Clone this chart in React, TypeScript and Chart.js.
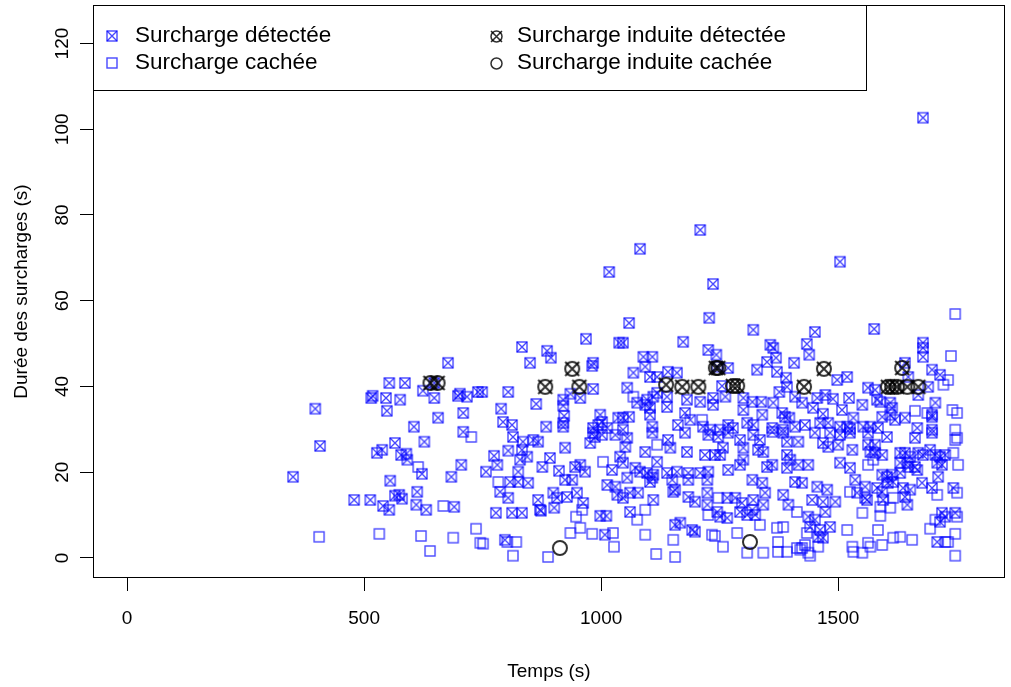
import React, { useEffect, useRef } from 'react';
import { Chart, registerables } from 'chart.js';

Chart.register(...registerables);

const X_TICKS = [0, 500, 1000, 1500];
const Y_TICKS = [0, 20, 40, 60, 80, 100, 120];
const X_MIN = -72;
const X_MAX = 1852;
const Y_MIN = -4.7;
const Y_MAX = 129;
const X_TITLE = 'Temps (s)';
const Y_TITLE = 'Durée des surcharges (s)';
const LEGEND_LABELS = [
  'Surcharge détectée',
  'Surcharge cachée',
  'Surcharge induite détectée',
  'Surcharge induite cachée',
];

type Pt = [number, number];

const detected: Pt[] = [
  [350, 18.9], [397, 34.8], [407, 26.1], [479, 13.5], [513, 13.5], [677, 45.5], [553, 40.8], [586, 40.8], [648, 40.8], [624, 39.0],
  [515, 37.3], [518, 37.8], [546, 37.3], [576, 36.9], [648, 37.3], [702, 38.3], [698, 37.8], [717, 37.6], [740, 38.7], [548, 34.3],
  [656, 32.7], [709, 33.8], [605, 30.6], [709, 29.4], [565, 26.8], [627, 27.1], [527, 24.5], [538, 25.2], [578, 24.0], [589, 24.3],
  [591, 22.9], [622, 19.6], [705, 21.7], [684, 18.9], [555, 18.0], [540, 12.1], [553, 11.2], [565, 14.5], [574, 14.7], [580, 13.8],
  [612, 15.4], [610, 12.4], [631, 11.2], [690, 11.9],
  [968, 51.1], [833, 49.2], [886, 48.3], [894, 46.7], [850, 45.5], [983, 45.5], [981, 44.8], [983, 39.4], [749, 38.7], [804, 38.7],
  [789, 34.8], [863, 35.9], [935, 38.3], [956, 37.3], [920, 36.9], [920, 35.5], [922, 33.1], [920, 31.5], [920, 30.6], [793, 31.7],
  [812, 31.0], [884, 30.6], [998, 33.4], [1002, 31.7], [983, 30.3], [1013, 30.3], [994, 31.0], [1038, 50.2], [1036, 32.7],
  [814, 28.2], [835, 27.1], [857, 27.5], [867, 27.1], [804, 25.0], [774, 23.8], [833, 25.2], [829, 22.9], [844, 23.6], [924, 25.7],
  [977, 26.8], [987, 28.2], [1002, 28.7], [983, 29.2], [1030, 28.7], [757, 20.1], [781, 21.7], [808, 17.7], [825, 17.7], [846, 17.5],
  [825, 20.1], [876, 21.2], [892, 23.3], [911, 20.3], [924, 18.2], [939, 18.2], [945, 21.2], [956, 21.7], [966, 20.1], [1023, 20.5],
  [1013, 17.0], [1030, 16.6], [1034, 14.7], [787, 15.4], [804, 14.0], [867, 13.5], [871, 11.2], [899, 15.2], [907, 14.0], [901, 11.7],
  [928, 14.2], [949, 15.2], [962, 12.8], [778, 10.5], [812, 10.5], [833, 10.5], [873, 11.0], [998, 9.8], [1011, 9.8], [1008, 5.4],
  [797, 4.2],
  [1228, 56.0], [1059, 54.8], [1046, 50.2], [1173, 50.4], [1226, 48.5], [1243, 47.4], [1089, 46.9], [1108, 46.9], [1093, 44.6], [1068, 43.2],
  [1141, 43.4], [1160, 43.2], [1103, 42.2], [1118, 42.2], [1245, 44.6], [1268, 44.3], [1255, 40.1], [1055, 39.7], [1076, 36.2], [1097, 36.9],
  [1118, 38.5], [1110, 37.6], [1139, 37.6], [1093, 35.7], [1103, 35.0], [1103, 33.4], [1139, 35.2], [1181, 36.9], [1209, 36.4], [1236, 37.3],
  [1236, 35.7], [1262, 37.6], [1046, 32.7], [1059, 32.9], [1177, 33.8], [1188, 32.2], [1162, 31.0], [1215, 30.6], [1108, 30.6], [1046, 29.9],
  [1268, 31.0], [1278, 30.3], [1251, 29.9], [1230, 29.9],
  [1108, 29.2], [1141, 27.5], [1146, 25.7], [1177, 29.2], [1055, 28.0], [1051, 25.9], [1093, 24.7], [1118, 22.4], [1181, 24.7], [1219, 24.0],
  [1240, 24.0], [1226, 28.7], [1247, 28.2], [1268, 29.2], [1257, 25.7], [1251, 24.0], [1040, 23.6], [1046, 22.2], [1055, 18.7], [1072, 21.0],
  [1082, 20.1], [1097, 19.8], [1110, 19.4], [1103, 17.7], [1108, 18.7], [1139, 19.8], [1160, 20.1], [1184, 19.8], [1209, 19.8], [1226, 20.1],
  [1150, 18.2], [1184, 18.2], [1224, 18.2], [1268, 20.5], [1152, 15.4], [1156, 15.9], [1184, 14.2], [1198, 13.1], [1224, 15.2], [1224, 12.4],
  [1266, 14.0], [1283, 14.0], [1061, 15.2], [1078, 15.2], [1110, 13.5], [1046, 14.0], [1061, 10.7], [1245, 10.7], [1251, 9.6], [1266, 9.3],
  [1156, 7.7], [1167, 8.2], [1192, 6.5], [1198, 6.1],
  [1679, 102.7], [1017, 66.7], [1082, 72.1], [1209, 76.5], [1504, 69.1], [1236, 63.9],
  [1321, 53.2], [1451, 52.7], [1357, 49.7], [1363, 49.0], [1434, 49.9], [1439, 47.4], [1350, 45.7], [1369, 46.7], [1407, 45.5], [1329, 43.9],
  [1371, 43.4], [1390, 42.0], [1392, 39.9], [1376, 38.7], [1498, 41.5], [1519, 42.2], [1300, 37.3], [1319, 36.4], [1338, 36.4], [1363, 36.2],
  [1409, 37.6], [1424, 36.2], [1456, 37.3], [1473, 38.0], [1489, 37.1], [1523, 37.3], [1300, 34.5], [1340, 33.4], [1382, 33.8], [1388, 32.9],
  [1397, 32.7], [1447, 35.0], [1468, 33.6], [1479, 31.5], [1508, 34.5], [1532, 32.7], [1308, 31.5], [1321, 31.0], [1361, 30.3], [1384, 29.9],
  [1409, 30.6], [1430, 31.0], [1462, 31.5], [1504, 30.6], [1519, 30.6], [1525, 30.1],
  [1321, 28.7], [1335, 27.5], [1361, 29.4], [1384, 29.2], [1392, 27.1], [1416, 27.1], [1451, 29.2], [1483, 29.2], [1504, 28.7], [1525, 29.2],
  [1293, 27.5], [1300, 25.7], [1331, 25.2], [1342, 24.7], [1468, 26.8], [1479, 25.9], [1500, 26.4], [1530, 25.2], [1392, 24.0], [1399, 22.9],
  [1416, 21.7], [1350, 21.2], [1361, 21.7], [1392, 21.0], [1437, 21.7], [1504, 22.2], [1525, 21.0], [1293, 21.7], [1300, 22.9], [1319, 18.2],
  [1340, 17.5], [1346, 15.2], [1409, 17.7], [1424, 17.5], [1456, 16.6], [1477, 15.9], [1536, 18.2], [1540, 15.2], [1384, 14.7], [1395, 12.4],
  [1445, 13.5], [1468, 13.1], [1494, 13.1], [1321, 13.5], [1319, 11.2], [1325, 10.0], [1308, 10.0], [1342, 12.4], [1297, 12.8], [1293, 10.7],
  [1437, 9.6], [1473, 10.7], [1451, 8.9], [1441, 7.2], [1462, 6.5], [1483, 7.2], [1458, 4.9], [1468, 4.7],
  [1576, 53.4], [1679, 50.2], [1679, 49.0], [1679, 46.9], [1641, 45.5], [1698, 43.9], [1715, 42.7], [1648, 42.2], [1690, 39.9], [1563, 39.7],
  [1578, 39.2], [1551, 35.7], [1582, 36.9], [1589, 36.4], [1610, 36.2], [1614, 35.0], [1610, 33.4], [1669, 38.0], [1705, 36.2], [1698, 33.4],
  [1698, 32.9], [1593, 32.9], [1620, 32.2], [1641, 32.7], [1553, 30.6], [1568, 30.6], [1584, 30.3], [1667, 30.3], [1698, 29.9],
  [1563, 29.2], [1603, 28.2], [1662, 28.0], [1698, 29.2], [1563, 26.4], [1578, 26.4], [1568, 24.7], [1578, 24.5], [1593, 24.0], [1631, 24.5],
  [1641, 24.5], [1652, 23.6], [1669, 24.5], [1679, 24.0], [1694, 25.2], [1705, 24.0], [1715, 23.6], [1726, 24.0], [1631, 22.2], [1646, 22.2],
  [1648, 21.2], [1662, 21.2], [1709, 22.2], [1719, 21.7], [1631, 19.8], [1667, 20.5], [1711, 18.9], [1593, 19.4], [1603, 18.9], [1614, 19.4],
  [1605, 17.5], [1616, 17.7], [1677, 17.5], [1698, 16.3], [1743, 16.3], [1557, 16.6], [1582, 16.3], [1593, 15.4], [1637, 16.3], [1652, 15.9],
  [1641, 14.2], [1646, 12.4], [1557, 14.0], [1561, 13.5], [1595, 13.5], [1719, 10.5], [1726, 9.6], [1747, 10.5], [1715, 8.4], [1709, 3.7],
];

const hidden: Pt[] = [
  [405, 4.9], [726, 28.2], [614, 21.2], [667, 12.1], [532, 5.6], [620, 5.1], [639, 1.6], [688, 4.7], [736, 6.8], [745, 3.5],
  [783, 17.7], [1004, 22.4], [960, 11.2], [947, 9.6], [956, 7.0], [935, 5.8], [981, 5.6], [1025, 5.8], [1027, 2.6], [751, 3.3],
  [802, 3.7], [821, 3.7], [814, 0.5], [888, 0.2],
  [1068, 37.6], [1213, 32.2],
  [1118, 26.4], [1247, 14.0], [1093, 11.2], [1076, 8.9], [1226, 10.0], [1093, 5.4], [1234, 5.4], [1240, 5.1], [1287, 5.8], [1152, 4.2],
  [1257, 2.6], [1116, 0.9], [1156, 0.2],
  [1413, 10.7], [1384, 7.2], [1371, 7.0], [1434, 5.8], [1519, 6.5], [1335, 7.7], [1373, 3.7], [1430, 3.0], [1458, 2.6], [1424, 2.3],
  [1530, 2.6], [1532, 1.4], [1308, 1.2], [1342, 1.2], [1373, 1.4], [1392, 1.4], [1437, 1.2], [1441, 0.5], [1413, 2.3], [1420, 1.9],
  [1525, 15.4],
  [1747, 56.9], [1738, 47.1], [1732, 41.5], [1722, 40.4], [1662, 34.3], [1688, 33.8], [1741, 34.5], [1751, 33.8], [1747, 29.9],
  [1747, 27.5], [1751, 28.0], [1743, 24.5], [1753, 21.7], [1563, 21.7], [1574, 22.9], [1751, 15.2], [1709, 14.7], [1616, 14.0], [1589, 11.9],
  [1610, 11.7], [1551, 10.5], [1589, 9.8], [1751, 9.6], [1705, 8.9], [1694, 6.8], [1747, 5.6], [1584, 6.5], [1726, 3.7], [1732, 3.7],
  [1563, 3.5], [1593, 3.0], [1616, 4.7], [1631, 4.9], [1656, 4.2], [1568, 2.6], [1551, 1.2], [1747, 0.5],
];

const inducedDetected: Pt[] = [
  [640, 40.8], [655, 40.8], [882, 39.9], [939, 44.1], [954, 39.9], [1137, 40.4], [1171, 39.9], [1205, 39.9], [1242, 44.3], [1247, 44.3],
  [1278, 40.1], [1287, 40.1], [1428, 39.9], [1470, 44.1], [1605, 39.9], [1614, 39.9], [1624, 39.9], [1635, 44.3], [1646, 39.9], [1669, 39.9],
];

const inducedHidden: Pt[] = [[913, 2.3], [1314, 3.7]];

const FONT = '"Liberation Sans", Arial, Helvetica, sans-serif';
const BLUE = 'rgba(0,0,255,0.72)';
const BLACK = 'rgba(0,0,0,0.82)';

function makeMarker(kind: string, half: number, lw: number, color: string): HTMLCanvasElement {
  const pad = 3;
  const size = Math.ceil(2 * half + 2 * pad);
  const c = document.createElement('canvas');
  c.width = size;
  c.height = size;
  const g = c.getContext('2d')!;
  const m = size / 2;
  g.strokeStyle = color;
  g.lineWidth = lw;
  if (kind === 'sq' || kind === 'sqx') {
    g.strokeRect(m - half, m - half, 2 * half, 2 * half);
  }
  if (kind === 'ci' || kind === 'cix') {
    g.beginPath();
    g.arc(m, m, half, 0, Math.PI * 2);
    g.stroke();
  }
  if (kind === 'sqx' || kind === 'cix') {
    g.beginPath();
    g.moveTo(m - half, m - half);
    g.lineTo(m + half, m + half);
    g.moveTo(m + half, m - half);
    g.lineTo(m - half, m + half);
    g.stroke();
  }
  return c;
}

const toXY = (arr: Pt[]) => arr.map(([x, y]) => ({ x, y }));

export default function App() {
  const ref = useRef<HTMLCanvasElement>(null);

  useEffect(() => {
    const sqx = makeMarker('sqx', 5, 1.4, BLUE);
    const sq = makeMarker('sq', 5, 1.4, BLUE);
    const cix = makeMarker('cix', 7, 2, BLACK);
    const ci = makeMarker('ci', 7, 2, BLACK);
    const legCix = makeMarker('cix', 5.5, 1.5, BLACK);
    const legCi = makeMarker('ci', 5.5, 1.5, BLACK);

    const frame = {
      id: 'rframe',
      afterDraw(chart: any) {
        const { ctx, chartArea: a } = chart;
        ctx.save();
        ctx.strokeStyle = '#000';
        ctx.lineWidth = 1;
        ctx.strokeRect(a.left + 0.5, a.top + 0.5, a.right - a.left - 1, a.bottom - a.top - 1);
        const lw = 773;
        const lh = 85;
        ctx.fillStyle = '#fff';
        ctx.fillRect(a.left + 0.5, a.top + 0.5, lw, lh);
        ctx.strokeRect(a.left + 0.5, a.top + 0.5, lw, lh);
        const marks = [sqx, sq, legCix, legCi];
        const cols = [a.left + 19, a.left + 19, a.left + 403, a.left + 403];
        const textX = [a.left + 42, a.left + 42, a.left + 424, a.left + 424];
        const rows = [a.top + 31, a.top + 58, a.top + 31, a.top + 58];
        ctx.font = `22.5px ${FONT}`;
        ctx.fillStyle = '#000';
        ctx.textBaseline = 'middle';
        ctx.textAlign = 'left';
        LEGEND_LABELS.forEach((lab, i) => {
          const m = marks[i];
          ctx.drawImage(m, Math.round(cols[i] - m.width / 2), Math.round(rows[i] - m.height / 2));
          ctx.fillText(lab, textX[i], rows[i]);
        });
        ctx.restore();
      },
    };

    const chart = new Chart(ref.current!, {
      type: 'scatter',
      data: {
        datasets: [
          { label: LEGEND_LABELS[2], data: toXY(inducedDetected), pointStyle: cix as any, pointRadius: 7, order: 0 },
          { label: LEGEND_LABELS[3], data: toXY(inducedHidden), pointStyle: ci as any, pointRadius: 7, order: 1 },
          { label: LEGEND_LABELS[1], data: toXY(hidden), pointStyle: sq as any, pointRadius: 5, order: 2 },
          { label: LEGEND_LABELS[0], data: toXY(detected), pointStyle: sqx as any, pointRadius: 5, order: 3 },
        ],
      },
      options: {
        animation: false,
        responsive: false,
        devicePixelRatio: 1,
        layout: { autoPadding: false, padding: { top: 5, right: 6, left: 0, bottom: 0 } },
        plugins: { legend: { display: false }, tooltip: { enabled: false } },
        events: [],
        scales: {
          x: {
            type: 'linear',
            min: X_MIN,
            max: X_MAX,
            afterBuildTicks: (s: any) => {
              s.ticks = X_TICKS.map((v) => ({ value: v }));
            },
            afterFit: (s: any) => {
              s.height = 109;
              s.paddingLeft = 0;
              s.paddingRight = 0;
            },
            border: { display: false },
            grid: { drawOnChartArea: false, drawTicks: true, tickLength: 13, color: '#000', lineWidth: 1 },
            ticks: {
              color: '#000',
              font: { size: 19, family: FONT },
              padding: 16,
              maxRotation: 0,
              minRotation: 0,
              callback: (v: any) => String(v),
            },
            title: {
              display: true,
              text: X_TITLE,
              color: '#000',
              font: { size: 19, family: FONT },
              padding: { top: 0, bottom: 4 },
            },
          },
          y: {
            type: 'linear',
            min: Y_MIN,
            max: Y_MAX,
            afterBuildTicks: (s: any) => {
              s.ticks = Y_TICKS.map((v) => ({ value: v }));
            },
            afterFit: (s: any) => {
              s.width = 93;
              s.paddingTop = 0;
              s.paddingBottom = 0;
            },
            border: { display: false },
            grid: { drawOnChartArea: false, drawTicks: true, tickLength: 13, color: '#000', lineWidth: 1 },
            ticks: {
              color: '#000',
              font: { size: 19, family: FONT },
              padding: 1,
              minRotation: 90,
              maxRotation: 90,
              crossAlign: 'center',
              callback: (v: any) => String(v),
            },
            title: {
              display: true,
              text: Y_TITLE,
              color: '#000',
              font: { size: 19, family: FONT },
              padding: { top: 10, bottom: 0 },
            },
          },
        },
      },
      plugins: [frame],
    });
    return () => chart.destroy();
  }, []);

  return (
    <div style={{ position: 'absolute', left: 0, top: 0, width: 1011, height: 687, background: '#fff' }}>
      <canvas ref={ref} width={1011} height={687} style={{ display: 'block' }} />
    </div>
  );
}
